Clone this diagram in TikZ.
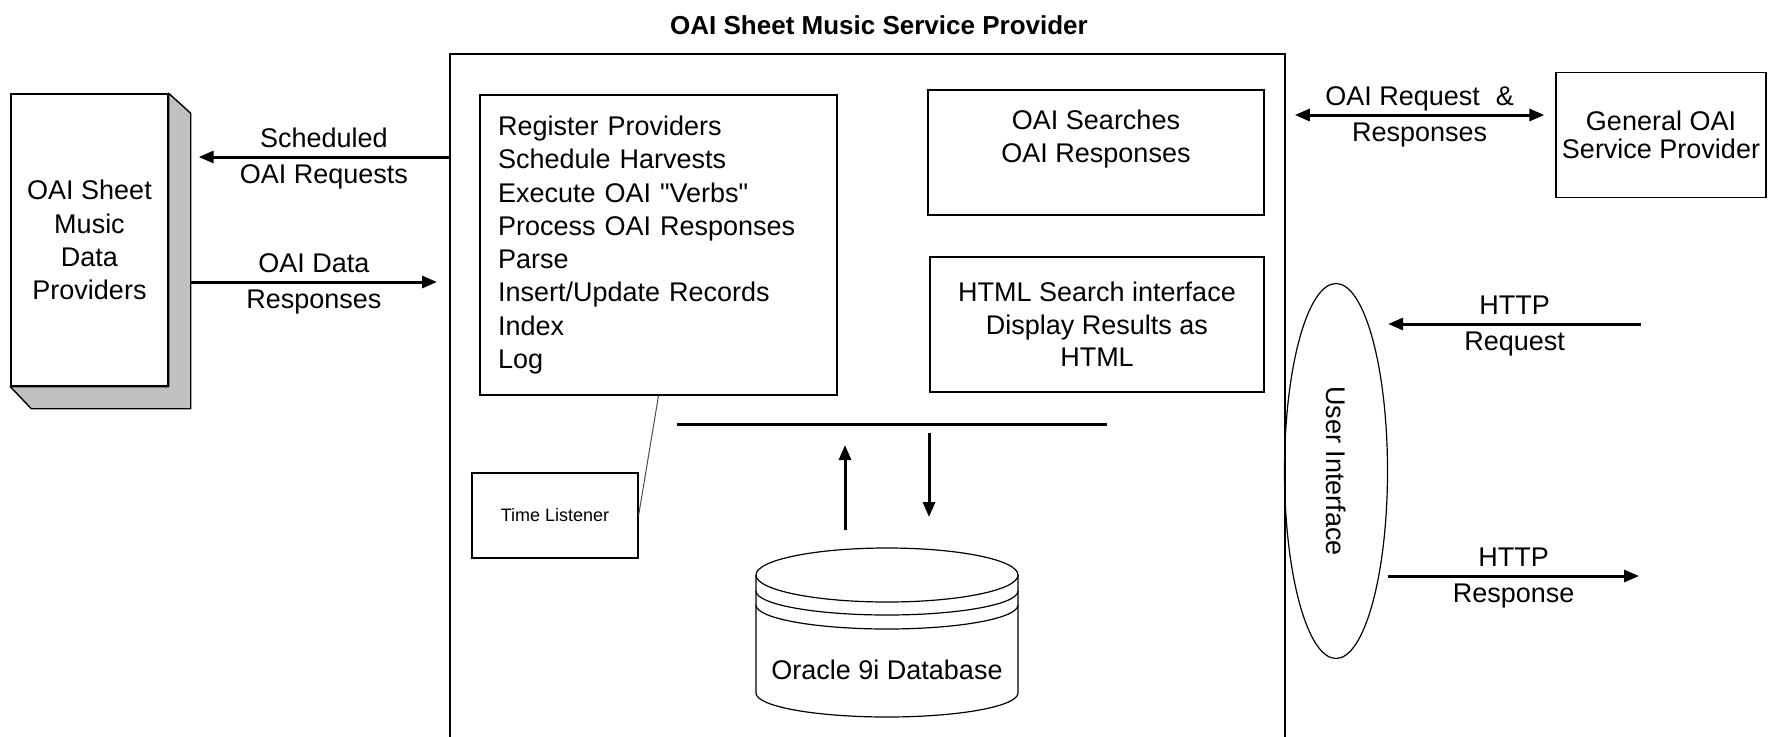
\documentclass[tikz,border=0pt]{standalone}
\usepackage{fontspec}
\setmainfont{Liberation Sans}[Ligatures=TeXOff]
\usetikzlibrary{positioning, arrows.meta, shapes.geometric, calc}
\definecolor{sidegray}{RGB}{192,192,192}
\tikzset{box/.style={draw, line width=1.4pt, inner sep=0pt},
         txt/.style={font=\fontsize{27}{33.3}\selectfont, align=center},
         conn/.style={line width=3pt, -{Triangle[length=15pt,width=12pt]}},
         dconn/.style={line width=3pt, {Triangle[length=15pt,width=12pt]}-{Triangle[length=15pt,width=12pt]}},
         toplbl/.style={txt, above, inner sep=8pt, text depth=0pt},
         botlbl/.style={txt, below, inner sep=6pt, text height=19pt},
        }

\begin{document}
\begin{tikzpicture}[x=1pt, y=-1pt]
        \useasboundingbox (0,0) rectangle (1774,736);
        \clip (0,0) rectangle (1774,736);

        \node[txt, font=\fontsize{26}{30}\selectfont\bfseries](title)at(879,25){OAI Sheet Music Service Provider};
        \node[box, line width=1.8pt, minimum width=835pt, minimum height=720pt, anchor=north west](main)at(449,53){};

        % data providers block
        \node[box, txt, minimum width=157pt, minimum height=292pt](prov)at(89.5,240){OAI Sheet\\Music\\Data\\Providers};
        \draw[line width=1.4pt, fill=sidegray, line join=round](prov.north east)--++(22,20)--($(prov.south east)+(22,22)$)
            --($(prov.south west)+(21,22)$)--(prov.south west)--(prov.south east)--cycle;
        \coordinate(sideE)at($(prov.east)+(22,0)$);

        \coordinate(schedY)at(0,157);
        \coordinate(dataY)at(0,282);
        \draw[conn](main.west |- schedY)--($(sideE |- schedY)+(8,0)$)node[midway, toplbl]{Scheduled}node[midway, botlbl]{OAI Requests};
        \draw[conn](sideE |- dataY)--($(main.west |- dataY)+(-12,0)$)node[midway, toplbl]{OAI Data}node[midway, botlbl]{Responses};

        % harvester
        \node[box, txt, align=left, text width=321pt, inner xsep=18pt, minimum height=300pt](tasks)at(658.5,245){Register Providers\\Schedule Harvests\\Execute OAI "Verbs"\\Process OAI Responses\\Parse\\Insert/Update Records\\Index\\Log};
        \node[box, line width=1.2pt, minimum width=166pt, minimum height=85pt, font=\fontsize{18}{22}\selectfont](timer)at(555,515.5){Time Listener};
        \draw[line width=1pt, black!70](tasks.south)--(timer.east);

        \coordinate(busL)at(677,424);
        \coordinate(busR)at(1107,424);
        \draw[line width=3pt](busL)--(busR);
        \coordinate(upFoot)at(845,530);
        \coordinate(upTip)at(845,445);
        \coordinate(downTop)at(929,433);
        \coordinate(downTip)at(929,517);
        \draw[conn](upFoot)--(upTip);
        \draw[conn](downTop)--(downTip);

        % database
        \draw[line width=1.2pt, fill=white](756,575)--(756,693)arc[start angle=180, end angle=360, x radius=131pt, y radius=24pt]--(1018,575);
        \draw[line width=1.2pt](887,575)ellipse[x radius=131pt, y radius=27pt];
        \foreach \ry in {591,605}
            \draw[line width=1.2pt](756,\ry)arc[start angle=180, end angle=360, x radius=131pt, y radius=24pt];
        \node[txt](db)at(887,670){Oracle 9i Database};

        % search side
        \node[box, minimum width=336pt, minimum height=125pt](search)at(1096,152.5){};
        \node[txt, below=17pt of search.north](searchtxt){OAI Searches\\OAI Responses};
        \node[box, txt, font=\fontsize{27}{32.5}\selectfont, minimum width=334pt, minimum height=135pt](html)at(1097,324.5){HTML Search interface\\Display Results as\\HTML};

        \node[box, txt, font=\fontsize{27}{28}\selectfont, minimum width=210pt, minimum height=125pt](general)at(1661,135){General OAI\\Service Provider};
        \coordinate(oaiY)at([yshift=20pt]general.west);
        \draw[dconn]($(main.east |- oaiY)+(9,0)$)--($(oaiY)+(-11,0)$)node[midway, toplbl]{OAI Request\hspace{16pt}\&}node[midway, botlbl]{Responses};

        % user interface
        \node[draw, line width=1.2pt, ellipse, inner sep=0pt, minimum width=103pt, minimum height=375pt, txt](ui)at(1336,471){\rotatebox{-90}{User Interface}};
        \coordinate(reqR)at(1641,324);
        \coordinate(respR)at(1639,576);
        \draw[conn](reqR)--(ui.east |- reqR)node[midway, toplbl]{HTTP}node[midway, botlbl]{Request};
        \draw[conn](ui.east |- respR)--(respR)node[midway, toplbl]{HTTP}node[midway, botlbl]{Response};
    \end{tikzpicture}
\end{document}
